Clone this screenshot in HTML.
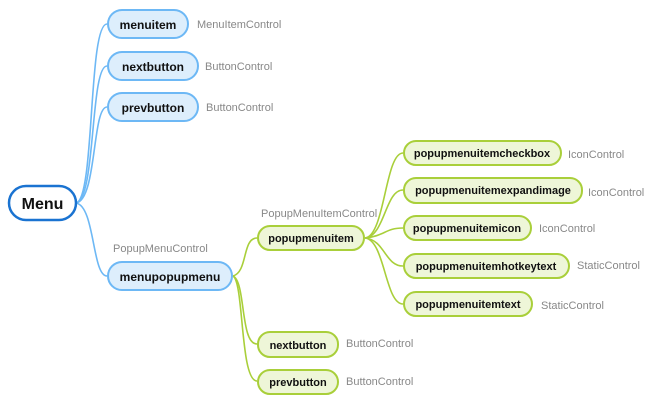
<!DOCTYPE html>
<html><head><meta charset="utf-8"><style>
html,body{margin:0;padding:0;background:#fff;width:652px;height:402px;overflow:hidden}
svg{display:block}
text{font-family:"Liberation Sans",sans-serif}
.b{font-weight:bold;font-size:12px;fill:#111}
.l{font-size:11px;fill:#888}
</style></head><body>
<svg width="652" height="402" viewBox="0 0 652 402">
<g fill="none" stroke="#6db8f5" stroke-width="1.6">
<path d="M76 203 C95 200 88 24 107 24"/>
<path d="M76 203 C96 200 90 66 107 66"/>
<path d="M76 203 C97 200 92 107 107 107"/>
<path d="M76 203 C95 206 92 276 107 276"/>
</g>
<g fill="none" stroke="#a9cf3a" stroke-width="1.6">
<path d="M233 276 C248 272 242 238 257 238"/>
<path d="M233 276 C246 282 240 344 257 344"/>
<path d="M233 276 C244 282 240 381 257 381"/>
<path d="M365 238 C385 236 385 153 403 153"/>
<path d="M365 238 C385 236 385 190 403 190"/>
<path d="M365 238 C385 236 385 228 403 228"/>
<path d="M365 238 C385 240 385 266 403 266"/>
<path d="M365 238 C385 240 385 304 403 304"/>
</g>
<rect x="9" y="186" width="67" height="34" rx="17" fill="#fff" stroke="#1a73d1" stroke-width="2.5"/>
<text x="42.5" y="209" text-anchor="middle" style="font-weight:bold;font-size:16px;fill:#111">Menu</text>
<g fill="#ddeefc" stroke="#6db8f5" stroke-width="2">
<rect x="108" y="10" width="80" height="28" rx="14"/>
<rect x="108" y="52" width="90" height="28" rx="14"/>
<rect x="108" y="93" width="90" height="28" rx="14"/>
<rect x="108" y="262" width="124" height="28" rx="14"/>
</g>
<g fill="#eef6d8" stroke="#a9cf3a" stroke-width="2">
<rect x="258" y="226" width="106" height="24" rx="12"/>
<rect x="404" y="141" width="157" height="24" rx="12"/>
<rect x="404" y="178" width="178" height="25" rx="12"/>
<rect x="404" y="216" width="127" height="24" rx="12"/>
<rect x="404" y="254" width="165" height="24" rx="12"/>
<rect x="404" y="292" width="128" height="24" rx="12"/>
<rect x="258" y="332" width="80" height="25" rx="12"/>
<rect x="258" y="370" width="80" height="24" rx="12"/>
</g>
<g class="b" text-anchor="middle">
<text x="148" y="29" class="b">menuitem</text>
<text x="153" y="71" class="b">nextbutton</text>
<text x="153" y="112" class="b">prevbutton</text>
<text x="170" y="281" class="b">menupopupmenu</text>
<text x="311" y="242" class="b" style="font-size:11px">popupmenuitem</text>
<text x="482" y="157" class="b" style="font-size:11px">popupmenuitemcheckbox</text>
<text x="493" y="194" class="b" style="font-size:11px">popupmenuitemexpandimage</text>
<text x="467" y="232" class="b" style="font-size:11px">popupmenuitemicon</text>
<text x="486" y="270" class="b" style="font-size:11px">popupmenuitemhotkeytext</text>
<text x="468" y="308" class="b" style="font-size:11px">popupmenuitemtext</text>
<text x="298" y="349" class="b" style="font-size:11px">nextbutton</text>
<text x="298" y="386" class="b" style="font-size:11px">prevbutton</text>
</g>
<g class="l">
<text x="197" y="28" class="l">MenuItemControl</text>
<text x="205" y="70" class="l">ButtonControl</text>
<text x="206" y="111" class="l">ButtonControl</text>
<text x="113" y="252" class="l">PopupMenuControl</text>
<text x="261" y="217" class="l">PopupMenuItemControl</text>
<text x="568" y="158" class="l">IconControl</text>
<text x="588" y="196" class="l">IconControl</text>
<text x="539" y="232" class="l">IconControl</text>
<text x="577" y="269" class="l">StaticControl</text>
<text x="541" y="309" class="l">StaticControl</text>
<text x="346" y="347" class="l">ButtonControl</text>
<text x="346" y="385" class="l">ButtonControl</text>
</g>
</svg>
</body></html>
